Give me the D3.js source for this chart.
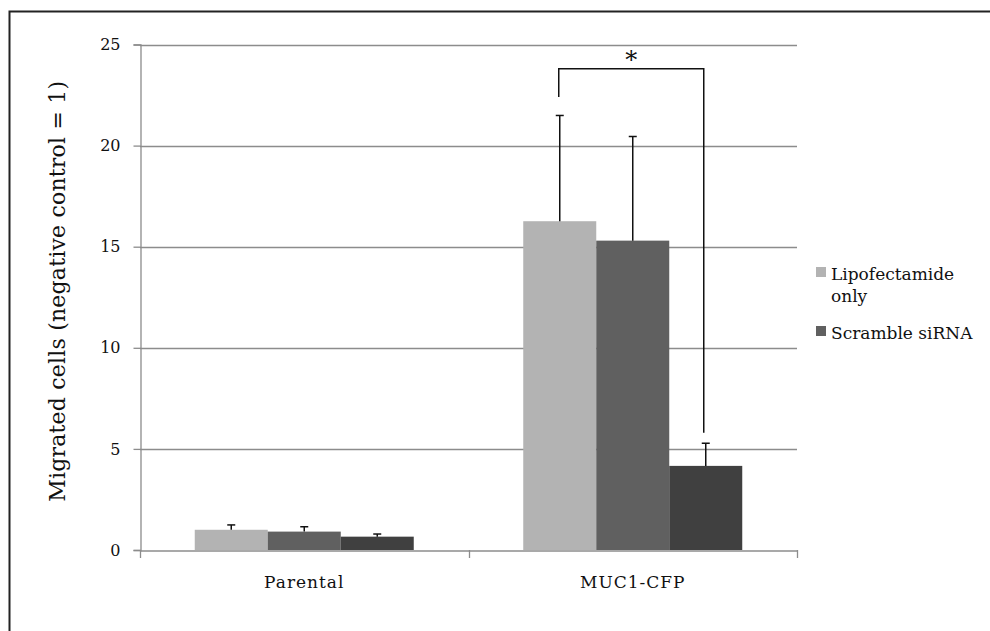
<!DOCTYPE html>
<html>
<head>
<meta charset="utf-8">
<script src="https://cdn.jsdelivr.net/npm/d3@7"></script>
<style>
  body { margin: 0; background: #fff; }
  svg { display: block; }
  svg text { font-family: "DejaVu Serif", "Liberation Serif", serif; }
</style>
</head>
<body>
<svg id="chart" width="990" height="631"></svg>
<script>
// values
const categories = ["Parental", "MUC1-CFP"];
const seriesNames = ["Lipofectamide only", "Scramble siRNA", "MUC1 siRNA"];
const lipoValues = [1.0, 16.26];
const scrambleValues = [0.91, 15.3];
const muc1Values = [0.66, 4.16];
const lipoErrors = [0.24, 5.23];
const scrambleErrors = [0.24, 5.15];
const muc1Errors = [0.13, 1.12];
const yTicks = [0, 5, 10, 15, 20, 25];
const legendLines = [["Lipofectamide", "only"], ["Scramble siRNA"]];
// significance bracket: MUC1-CFP, series 0 vs series 2
const bracket = { category: "MUC1-CFP", from: 0, to: 2, top: 23.8, leftEnd: 22.4, rightEnd: 5.8, label: "*" };

const colors = ["#b3b3b3", "#606060", "#404040"];
const fontFam = '"DejaVu Serif", "Liberation Serif", serif';

const series = [lipoValues, scrambleValues, muc1Values].map((vals, i) => ({
  idx: i,
  name: seriesNames[i],
  values: vals,
  errors: [lipoErrors, scrambleErrors, muc1Errors][i]
}));

const svg = d3.select("#chart");

// outer frame (cut off at right and bottom in the original)
svg.append("rect")
  .attr("x", 9.5).attr("y", 11.5)
  .attr("width", 1000).attr("height", 700)
  .attr("fill", "none")
  .attr("stroke", "#222")
  .attr("stroke-width", 2);

const x0 = d3.scaleBand().domain(categories).range([140, 797]);
const bw = x0.bandwidth();
const x1 = d3.scaleBand().domain(d3.range(series.length)).range([bw / 6, bw * 5 / 6]);
const y = d3.scaleLinear().domain([0, 25]).range([550, 44.5]);

// gridlines
svg.append("g")
  .selectAll("line")
  .data(yTicks.filter(t => t > 0))
  .enter().append("line")
  .attr("x1", 140).attr("x2", 797)
  .attr("y1", d => Math.round(y(d)) + 0.5)
  .attr("y2", d => Math.round(y(d)) + 0.5)
  .attr("stroke", "#8c8c8c")
  .attr("stroke-width", 1.3);

// y axis
const yAxis = svg.append("g")
  .attr("transform", "translate(140.5,0)")
  .call(d3.axisLeft(y).tickValues(yTicks).tickSize(7).tickPadding(13));
yAxis.attr("font-family", null);
yAxis.select(".domain").attr("stroke", "#8c8c8c").attr("stroke-width", 1.3);
yAxis.selectAll(".tick line").attr("stroke", "#8c8c8c").attr("stroke-width", 1.3);
yAxis.selectAll(".tick text")
  .attr("fill", "#111")
  .style("font-family", fontFam)
  .style("font-size", "16px");

// bars
const groups = svg.append("g")
  .selectAll("g")
  .data(series)
  .enter().append("g")
  .attr("fill", d => colors[d.idx]);

groups.selectAll("rect")
  .data(d => d.values.map((v, j) => ({ s: d.idx, cat: categories[j], v, e: d.errors[j] })))
  .enter().append("rect")
  .attr("x", d => x0(d.cat) + x1(d.s))
  .attr("width", x1.bandwidth())
  .attr("y", d => y(d.v))
  .attr("height", d => y(0) - y(d.v));

// x axis
const xAxis = svg.append("g")
  .attr("transform", "translate(0,550.5)")
  .call(d3.axisBottom(x0).tickSize(0).tickPadding(25));
xAxis.attr("font-family", null);
xAxis.select(".domain").attr("stroke", "#8c8c8c").attr("stroke-width", 1.3);
xAxis.selectAll(".tick text")
  .attr("fill", "#111")
  .style("font-family", fontFam)
  .style("font-size", "17px")
  .style("letter-spacing", "1px");
svg.append("g")
  .selectAll("line")
  .data([140, x0(categories[1]), 797])
  .enter().append("line")
  .attr("x1", d => Math.round(d) + 0.5).attr("x2", d => Math.round(d) + 0.5)
  .attr("y1", 550).attr("y2", 558)
  .attr("stroke", "#8c8c8c").attr("stroke-width", 1.3);

// error bars (upper only)
const errData = series.flatMap(s => s.values.map((v, j) => ({ s: s.idx, cat: categories[j], v, e: s.errors[j] })));
const errG = svg.append("g").attr("stroke", "#111").attr("stroke-width", 1.5);
errData.forEach(d => {
  const cx = x0(d.cat) + x1(d.s) + x1.bandwidth() / 2;
  errG.append("line").attr("x1", cx).attr("x2", cx).attr("y1", y(d.v)).attr("y2", y(d.v + d.e));
  errG.append("line").attr("x1", cx - 4).attr("x2", cx + 4).attr("y1", y(d.v + d.e)).attr("y2", y(d.v + d.e));
});

// significance bracket
const bxL = x0(bracket.category) + x1(bracket.from) + x1.bandwidth() / 2 - 1;
const bxR = x0(bracket.category) + x1(bracket.to) + x1.bandwidth() / 2 - 2;
svg.append("path")
  .attr("d", `M${bxL},${y(bracket.leftEnd)}V${y(bracket.top)}H${bxR}V${y(bracket.rightEnd)}`)
  .attr("fill", "none")
  .attr("stroke", "#111")
  .attr("stroke-width", 1.5);
svg.append("text")
  .attr("x", (bxL + bxR) / 2)
  .attr("y", y(bracket.top) - 1)
  .attr("text-anchor", "middle")
  .attr("fill", "#111")
  .style("font-size", "24px")
  .text(bracket.label);

// y axis title
svg.append("text")
  .attr("transform", `translate(65,${(y(0) + y(25)) / 2 - 6}) rotate(-90)`)
  .attr("text-anchor", "middle")
  .attr("fill", "#111")
  .style("font-size", "22px")
  .style("letter-spacing", "0.2px")
  .text("Migrated cells (negative control = 1)");

// legend
const legend = svg.append("g").attr("transform", "translate(816,267)");
const legendY = [0, 59];
legendLines.forEach((lines, i) => {
  const g = legend.append("g").attr("transform", `translate(0,${legendY[i]})`);
  g.append("rect").attr("width", 10).attr("height", 10).attr("fill", colors[i]);
  g.selectAll("text")
    .data(lines)
    .enter().append("text")
    .attr("x", 15)
    .attr("y", (d, k) => 13 + k * 22)
    .attr("fill", "#111")
    .style("font-size", "17px")
    .text(d => d);
});
</script>
</body>
</html>
